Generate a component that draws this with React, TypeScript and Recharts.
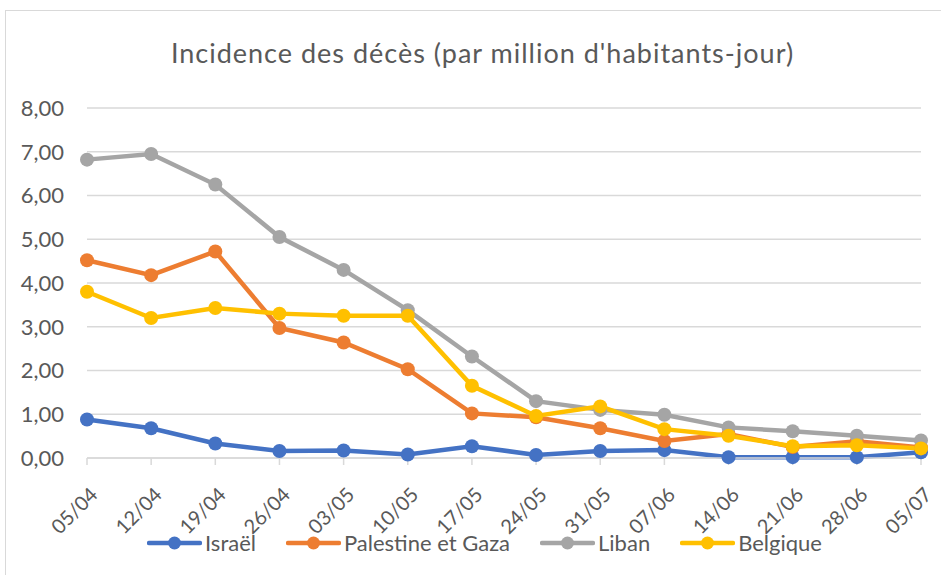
import { LineChart, Line, XAxis, YAxis, CartesianGrid } from "recharts";

const DATES = ["05/04", "12/04", "19/04", "26/04", "03/05", "10/05", "17/05", "24/05", "31/05", "07/06", "14/06", "21/06", "28/06", "05/07"];
const ISRAEL = [0.88, 0.68, 0.33, 0.16, 0.17, 0.08, 0.27, 0.07, 0.16, 0.18, 0.02, 0.02, 0.02, 0.13];
const PALESTINE = [4.52, 4.18, 4.72, 2.97, 2.64, 2.03, 1.02, 0.93, 0.68, 0.39, 0.55, 0.25, 0.38, 0.24];
const LIBAN = [6.82, 6.95, 6.25, 5.05, 4.3, 3.38, 2.32, 1.3, 1.1, 0.99, 0.7, 0.61, 0.51, 0.4];
const BELGIQUE = [3.8, 3.2, 3.43, 3.3, 3.25, 3.25, 1.65, 0.96, 1.18, 0.66, 0.51, 0.27, 0.29, 0.22];
const Y_TICKS = [0, 1, 2, 3, 4, 5, 6, 7, 8];

const SERIES = [
  { key: "israel", name: "Israël", color: "#4472C4", values: ISRAEL },
  { key: "palestine", name: "Palestine et Gaza", color: "#ED7D31", values: PALESTINE },
  { key: "liban", name: "Liban", color: "#A5A5A5", values: LIBAN },
  { key: "belgique", name: "Belgique", color: "#FFC000", values: BELGIQUE },
];

const data = DATES.map((d, i) => {
  const row: Record<string, string | number> = { date: d };
  SERIES.forEach((s) => (row[s.key] = s.values[i]));
  return row;
});

const FONT = "Lato, 'Open Sans', sans-serif";
const TEXT = "#595959";

function XTick({ x, y, payload }: any) {
  return (
    <g transform={`translate(${x},${y})`}>
      <text x={-12} y={29} textAnchor="end" transform="rotate(-45)" fill={TEXT} fontSize={20} fontFamily={FONT}>
        {payload.value}
      </text>
    </g>
  );
}

export default function App() {
  return (
    <div style={{ position: "fixed", left: 0, top: 0, width: 941, height: 575, overflow: "hidden", background: "#fff" }}>
      <div style={{ position: "absolute", left: 5, top: 10, width: 980, height: 620, border: "1px solid #d9d9d9" }} />
      <div
        style={{
          position: "absolute",
          left: 0,
          top: 36,
          width: 965,
          textAlign: "center",
          fontFamily: FONT,
          fontSize: 27,
          letterSpacing: 1,
          color: TEXT,
        }}
      >
        Incidence des décès (par million d'habitants-jour)
      </div>
      <div style={{ position: "absolute", left: 0, top: 0 }}>
        <LineChart width={941} height={575} data={data} margin={{ top: 108, right: 20, left: 0, bottom: 0 }}>
          <CartesianGrid vertical={false} stroke="#d9d9d9" strokeWidth={1.5} />
          <XAxis
            dataKey="date"
            height={117}
            stroke="#d9d9d9"
            strokeWidth={1.5}
            tickSize={7}
            tick={<XTick />}
            interval={0}
          />
          <YAxis
            domain={[0, 8]}
            ticks={Y_TICKS}
            width={87}
            axisLine={false}
            tickLine={false}
            tickSize={0}
            tickMargin={23}
            tickFormatter={(v: number) => v.toFixed(2).replace(".", ",")}
            tick={{ fill: TEXT, fontSize: 22, fontFamily: FONT }}
          />
          {SERIES.map((s) => (
            <Line
              key={s.key}
              dataKey={s.key}
              name={s.name}
              stroke={s.color}
              strokeWidth={4.5}
              dot={{ r: 7, fill: s.color, stroke: "none" }}
              activeDot={false}
              isAnimationActive={false}
            />
          ))}
        </LineChart>
      </div>
      <div
        style={{
          position: "absolute",
          left: 0,
          top: 529,
          width: 969,
          display: "flex",
          justifyContent: "center",
          gap: 30,
          fontFamily: FONT,
          fontSize: 22,
          color: TEXT,
        }}
      >
        {SERIES.map((s) => (
          <div key={s.key} style={{ display: "flex", alignItems: "center", gap: 3 }}>
            <svg width={55} height={20}>
              <line x1={2} y1={10} x2={53} y2={10} stroke={s.color} strokeWidth={4.5} strokeLinecap="round" />
              <circle cx={27.5} cy={10} r={6.5} fill={s.color} />
            </svg>
            <span>{s.name}</span>
          </div>
        ))}
      </div>
    </div>
  );
}
